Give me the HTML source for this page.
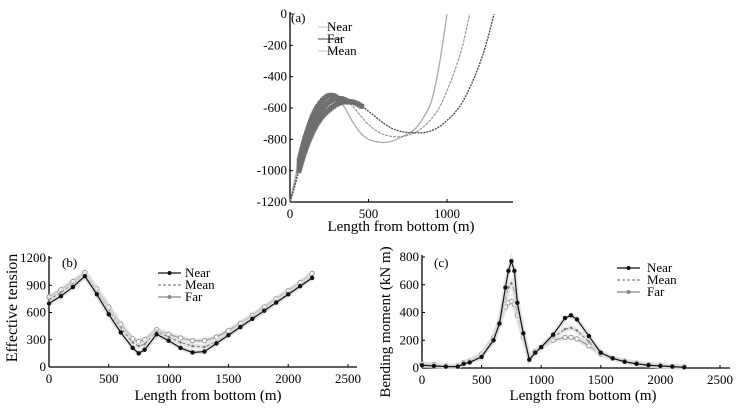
<!DOCTYPE html>
<html><head><meta charset="utf-8"><style>
body{margin:0;background:#fff}
svg{display:block;font-family:"Liberation Serif",serif}
</style></head><body>
<svg id="s" width="737" height="410" viewBox="0 0 737 410"></svg>
<script>
// (a) riser configuration
const aNearX=[0,30,60,100,150,200,250,300,350,400,450,500,550,600,650,700,750,800,850,900,950,1000];
const aNearZ=[-1200,-1060,-930,-780,-640,-560,-520,-535,-600,-690,-760,-800,-815,-820,-812,-790,-765,-730,-660,-560,-330,0];
const aMeanX=[0,30,60,100,150,200,250,300,350,400,450,500,550,600,650,700,750,800,850,900,950,1000,1050,1100,1144];
const aMeanZ=[-1200,-1080,-960,-820,-690,-610,-560,-540,-548,-590,-650,-705,-745,-770,-782,-783,-775,-755,-720,-670,-600,-490,-360,-200,0];
const aFarX=[0,30,60,100,150,200,250,300,350,400,450,500,550,600,650,700,750,800,850,900,950,1000,1050,1100,1150,1200,1250,1300];
const aFarZ=[-1200,-1100,-990,-860,-740,-660,-610,-575,-560,-562,-585,-620,-660,-700,-730,-748,-756,-758,-757,-745,-720,-680,-630,-560,-460,-340,-190,0];
const aXTicks=[0,500,1000];
const aYTicks=[0,-200,-400,-600,-800,-1000,-1200];
// (b) effective tension
const bX=[0,100,200,300,400,500,600,700,750,800,900,1000,1100,1200,1300,1400,1500,1600,1700,1800,1900,2000,2100,2200];
const bNear=[700,780,880,1000,800,580,380,210,150,190,360,290,210,160,170,260,350,440,530,620,710,800,890,980];
const bMean=[740,820,910,1010,830,620,430,270,230,250,390,330,270,230,220,280,360,450,540,630,720,810,900,1000];
const bFar=[770,850,940,1040,860,660,470,310,280,300,410,360,320,290,290,330,400,480,570,660,750,840,930,1030];
const bXTicks=[0,500,1000,1500,2000,2500];
const bYTicks=[0,300,600,900,1200];
// (c) bending moment
const cX=[0,100,200,300,350,400,500,600,650,700,725,750,775,800,850,900,950,1000,1100,1200,1250,1300,1400,1500,1600,1700,1800,1900,2000,2100,2200];
const cNear=[20,15,10,10,30,40,80,200,320,580,700,770,700,470,250,60,110,150,240,360,380,350,230,110,70,45,30,20,15,10,5];
const cMean=[25,20,12,12,35,45,90,210,330,500,580,610,560,420,240,70,110,150,220,280,290,270,190,110,70,45,30,20,15,10,5];
const cFar=[30,25,15,15,40,50,100,220,330,440,470,480,460,380,220,80,120,150,200,220,220,210,160,100,70,50,35,25,20,12,8];
const cXTicks=[0,500,1000,1500,2000,2500];
const cYTicks=[0,200,400,600,800];

const S=document.getElementById('s');
const NS='http://www.w3.org/2000/svg';
function mk(tag,attrs,parent,text){const e=document.createElementNS(NS,tag);for(const k in attrs)e.setAttribute(k,attrs[k]);if(text!==undefined)e.textContent=text;(parent||S).appendChild(e);return e;}
function lin(d0,d1,p0,p1){return v=>p0+(v-d0)*(p1-p0)/(d1-d0);}
function smooth(pts){let d='M'+pts[0][0]+','+pts[0][1];for(let i=0;i<pts.length-1;i++){const p0=pts[Math.max(0,i-1)],p1=pts[i],p2=pts[i+1],p3=pts[Math.min(pts.length-1,i+2)];const c1=[p1[0]+(p2[0]-p0[0])/6,p1[1]+(p2[1]-p0[1])/6],c2=[p2[0]-(p3[0]-p1[0])/6,p2[1]-(p3[1]-p1[1])/6];d+=' C'+c1+' '+c2+' '+p2;}return d;}

function axes(g,x0,x1,y0,y1,sx,sy,xt,yt,name){
  const ax=mk('line',{x1:x0,y1:y0,x2:x1,y2:y0,stroke:'#000','stroke-width':1.3},g);
  
  const ay=mk('line',{x1:x0,y1:y0,x2:x0,y2:y1,stroke:'#000','stroke-width':1.3},g);
  
  xt.forEach(v=>{const x=sx(v);mk('line',{x1:x,y1:y0,x2:x,y2:y0-3,stroke:'#000'},g);
    const t=mk('text',{x:x,y:y0+16,'text-anchor':'middle','font-size':13},g,String(v));
    });
  yt.forEach(v=>{const y=sy(v);mk('line',{x1:x0,y1:y,x2:x0+3,y2:y,stroke:'#000'},g);
    const t=mk('text',{x:x0-3,y:y+4,'text-anchor':'end','font-size':13},g,String(v));
    });
}
function legend(g,x,y,tx,items,name){
  items.forEach((it,i)=>{const yy=y+i*12;
    const l=mk('line',{x1:x,y1:yy,x2:x+23,y2:yy,stroke:it.c,'stroke-width':1.2,'stroke-dasharray':it.dash||''},g);
    
    if(it.m)mk('circle',{cx:x+11.5,cy:yy,r:2,fill:it.c},g);
    const t=mk('text',{x:tx,y:yy+4,'font-size':13},g,it.n);
    });
}
function series(g,xs,ys,sx,sy,col,w,dash,marker,name){
  const pts=xs.map((v,i)=>[sx(v),sy(ys[i])]);
  mk('polyline',{points:pts.join(' '),fill:'none',stroke:'#ddd','stroke-width':5,opacity:0.7},g);
  const p=mk('polyline',{points:pts.join(' '),fill:'none',stroke:col,'stroke-width':w,'stroke-dasharray':dash||''},g);
  
  pts.forEach(q=>{if(marker==='dot')mk('circle',{cx:q[0],cy:q[1],r:2.2,fill:col},g);
    else if(marker==='ring')mk('circle',{cx:q[0],cy:q[1],r:2.2,fill:'#fff',stroke:col,'stroke-width':1},g);
    else if(marker==='plus')mk('circle',{cx:q[0],cy:q[1],r:1.2,fill:col},g);});
}

// ---------- (a)
{const g=mk('g',{});
 const sx=lin(0,1000,290,447),sy=lin(0,-1200,14,202);
 axes(g,290,513,202,12,sx,sy,aXTicks,aYTicks,'panel-a');
 const defs=[[aNearX,aNearZ,'#aaa',1.3,'','curve-near',320],[aMeanX,aMeanZ,'#999',1.2,'3 1','curve-mean',380],[aFarX,aFarZ,'#444',1.3,'2 1','curve-far',470]];
 defs.forEach(d=>{const pts=d[0].map((v,i)=>[sx(v),sy(d[1][i])]);
   const p=mk('path',{d:smooth(pts),fill:'none',stroke:d[2],'stroke-width':d[3],'stroke-dasharray':d[4]},g);
   
   const L=p.getTotalLength(),xmin=sx(55),xmax=sx(d[6]);
   for(let s=0;s<L;s+=2.5){const q=p.getPointAtLength(s);if(q.x>=xmin&&q.x<=xmax)mk('rect',{x:q.x-2.5,y:q.y-2.5,width:5,height:5,fill:'#6f6f6f'},g);}
 });
 const t=mk('text',{x:291,y:22,'font-size':13},g,'(a)');
 legend(g,318,27,327,[{n:'Near',c:'#ccc'},{n:'Far',c:'#666'},{n:'Mean',c:'#ccc'}],'panel-a');
 const xt=mk('text',{x:401,y:231,'text-anchor':'middle','font-size':15},g,'Length from bottom (m)');
 
}
// ---------- (b)
{const g=mk('g',{});
 const sx=lin(0,2500,49,348),sy=lin(0,1200,367,258);
 axes(g,49,357,367,256,sx,sy,bXTicks,bYTicks,'panel-b');
 series(g,bX,bFar,sx,sy,'#999',1.2,'','ring','series-far');
 series(g,bX,bMean,sx,sy,'#777',1,'3 2','plus','series-mean');
 series(g,bX,bNear,sx,sy,'#111',1.2,'','dot','series-near');
 const t=mk('text',{x:62,y:267,'font-size':13},g,'(b)');
 legend(g,158,273,185,[{n:'Near',c:'#111',m:1},{n:'Mean',c:'#888',dash:'3 2'},{n:'Far',c:'#888',m:1}],'panel-b');
 const xt=mk('text',{x:208,y:400,'text-anchor':'middle','font-size':15},g,'Length from bottom (m)');
 
 const yt=mk('text',{x:0,y:0,'text-anchor':'middle','font-size':16,transform:'translate(17,308) rotate(-90)'},g,'Effective tension');
 
}
// ---------- (c)
{const g=mk('g',{});
 const sx=lin(0,2500,422,720),sy=lin(0,800,368,257);
 axes(g,422,730,368,255,sx,sy,cXTicks,cYTicks,'panel-c');
 series(g,cX,cFar,sx,sy,'#999',1.2,'','ring','series-far');
 series(g,cX,cMean,sx,sy,'#777',1,'3 2','plus','series-mean');
 series(g,cX,cNear,sx,sy,'#111',1.2,'','dot','series-near');
 const t=mk('text',{x:434,y:267,'font-size':13},g,'(c)');
 legend(g,617,268,647,[{n:'Near',c:'#111',m:1},{n:'Mean',c:'#888',dash:'3 2'},{n:'Far',c:'#888',m:1}],'panel-c');
 const xt=mk('text',{x:583,y:400,'text-anchor':'middle','font-size':15},g,'Length from bottom (m)');
 
 const yt=mk('text',{x:0,y:0,'text-anchor':'middle','font-size':15,transform:'translate(390,322) rotate(-90)'},g,'Bending moment (kN m)');
 
}
</script>
</body></html>
